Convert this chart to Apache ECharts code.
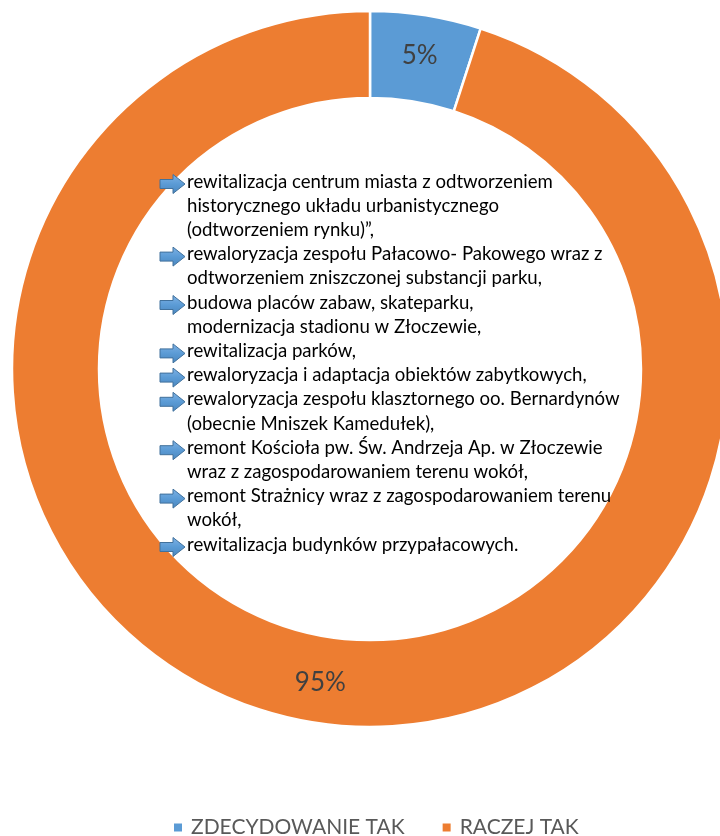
<!DOCTYPE html>
<html>
<head>
<meta charset="utf-8">
<script src="https://cdn.jsdelivr.net/npm/echarts@6/dist/echarts.min.js"></script>
<style>
html,body{margin:0;padding:0;background:#fff;}
#chart{width:720px;height:836px;}
</style>
</head>
<body>
<div id="chart"></div>
<script>
const categories = ['ZDECYDOWANIE TAK', 'RACZEJ TAK'];
const values = [5, 95];
const colors = ['#5B9BD5', '#ED7D31'];
// [text, hasArrow]
const noteLines = [
  ['rewitalizacja centrum miasta z odtworzeniem', true],
  ['historycznego układu urbanistycznego', false],
  ['(odtworzeniem rynku)”,', false],
  ['rewaloryzacja zespołu Pałacowo- Pakowego wraz z', true],
  ['odtworzeniem zniszczonej substancji parku,', false],
  ['budowa placów zabaw, skateparku,', true],
  ['modernizacja stadionu w Złoczewie,', false],
  ['rewitalizacja parków,', true],
  ['rewaloryzacja i adaptacja obiektów zabytkowych,', true],
  ['rewaloryzacja zespołu klasztornego oo. Bernardynów', true],
  ['(obecnie Mniszek Kamedułek),', false],
  ['remont Kościoła pw. Św. Andrzeja Ap. w Złoczewie', true],
  ['wraz z zagospodarowaniem terenu wokół,', false],
  ['remont Strażnicy wraz z zagospodarowaniem terenu', true],
  ['wokół,', false],
  ['rewitalizacja budynków przypałacowych.', true]
];

const FONT = 'Lato, "Open Sans", sans-serif';
const chart = echarts.init(document.getElementById('chart'));

const graphics = [];
const textX = 187, firstY = 184, lineH = 24.2;
noteLines.forEach((ln, i) => {
  const y = firstY + i * lineH;
  graphics.push({
    type: 'text', left: textX, top: y - 12, z: 10,
    style: { text: ln[0], fill: '#000', font: '18.6px ' + FONT }
  });
  if (ln[1]) {
    graphics.push({
      type: 'polygon', z: 10,
      shape: { points: [[160, y - 4.5], [173, y - 4.5], [173, y - 9.5], [185, y], [173, y + 9.5], [173, y + 4.5], [160, y + 4.5]] },
      style: {
        fill: new echarts.graphic.LinearGradient(0, 0, 0, 1, [
          { offset: 0, color: '#7FB2E5' }, { offset: 0.5, color: '#5B9BD5' }, { offset: 1, color: '#4A86BE' }
        ]),
        stroke: '#41719C', lineWidth: 1
      }
    });
  }
});

chart.setOption({
  animation: false,
  color: colors,
  textStyle: { fontFamily: FONT },
  legend: {
    data: categories,
    top: 812,
    left: 167,
    icon: 'rect',
    itemWidth: 10,
    itemHeight: 10,
    itemGap: 36,
    textStyle: { fontSize: 21, color: '#595959', fontFamily: FONT, padding: [0, 0, 0, 3] }
  },
  graphic: graphics,
  series: [{
    type: 'pie',
    center: [370, 369],
    radius: [271, 358],
    startAngle: 90,
    clockwise: true,
    avoidLabelOverlap: false,
    itemStyle: { borderColor: '#fff', borderWidth: 2.5 },
    label: {
      show: true, position: 'inside', formatter: '{c}%',
      fontSize: 26, color: '#404040', fontFamily: FONT
    },
    labelLine: { show: false },
    emphasis: { disabled: true },
    data: categories.map((c, i) => ({ name: c, value: values[i] }))
  }]
});
</script>
</body>
</html>
